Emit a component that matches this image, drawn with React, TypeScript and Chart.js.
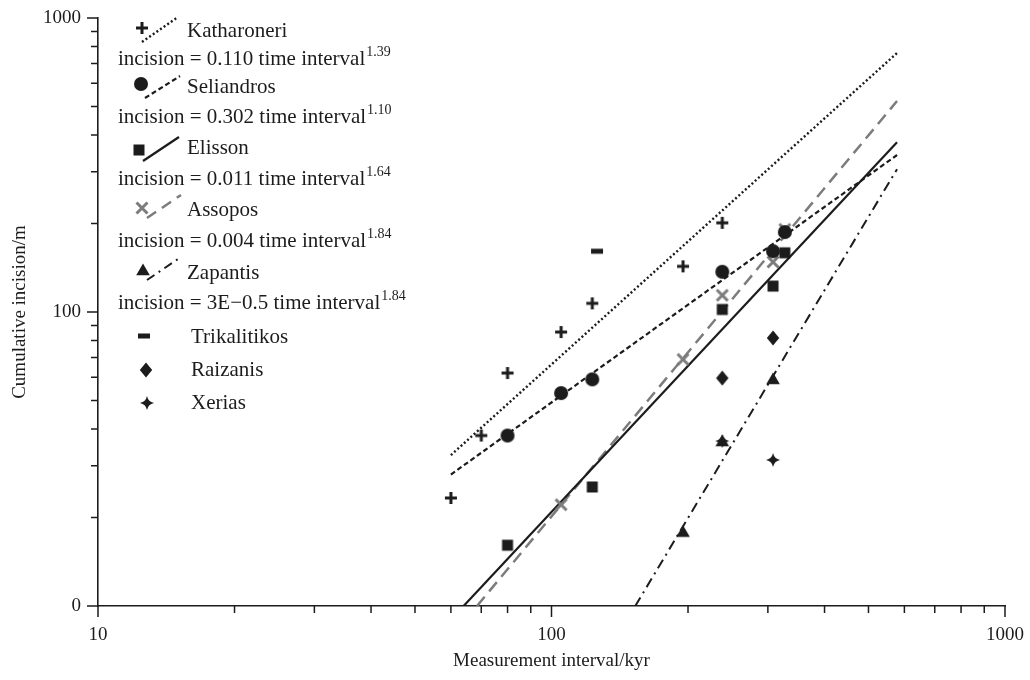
import React, { useEffect, useRef } from "react";
import { Chart, registerables } from "chart.js";

Chart.register(...registerables);

// ---------- data ----------
const katharoneriX = [60, 70, 80, 105, 123, 195, 238];
const katharoneriY = [23.3, 38, 62, 85.5, 107, 143, 201];
const seliandrosX = [80, 105, 123, 238, 308, 327];
const seliandrosY = [38, 53, 59, 137, 161, 187];
const elissonX = [80, 123, 238, 308, 327];
const elissonY = [16.1, 25.4, 102, 122.5, 159];
const assoposX = [105, 195, 238, 308, 327];
const assoposY = [22.1, 69, 114, 148, 191];
const zapantisX = [195, 238, 308];
const zapantisY = [17.9, 36.4, 59.2];
const trikalitikosX = [126];
const trikalitikosY = [161];
const raizanisX = [238, 308];
const raizanisY = [59.6, 81.6];
const xeriasX = [238, 308];
const xeriasY = [36.4, 31.4];

// fitted power-law lines (end points)
const katharoneriFitX = [60, 578];
const katharoneriFitY = [32.6, 760];
const seliandrosFitX = [60, 578];
const seliandrosFitY = [28, 342];
const elissonFitX = [64, 578];
const elissonFitY = [10, 378];
const assoposFitX = [68.5, 578];
const assoposFitY = [10, 522];
const zapantisFitX = [153, 578];
const zapantisFitY = [10, 306];

// ticks
const xTickValues = [10, 100, 1000];
const xTickLabels = ["10", "100", "1000"];
const yTickValues = [10, 100, 1000];
const yTickLabels = ["0", "100", "1000"];
const minorTickValues = [20, 30, 40, 50, 60, 70, 80, 90, 200, 300, 400, 500, 600, 700, 800, 900];

// legend text
const seriesNames = ["Katharoneri", "Seliandros", "Elisson", "Assopos", "Zapantis", "Trikalitikos", "Raizanis", "Xerias"];
const equationTexts = [
  "incision = 0.110 time interval",
  "incision = 0.302 time interval",
  "incision = 0.011 time interval",
  "incision = 0.004 time interval",
  "incision = 3E\u22120.5 time interval",
];
const equationExponents = ["1.39", "1.10", "1.64", "1.84", "1.84"];

const SERIF = "'Liberation Serif', 'Times New Roman', serif";
const INK = "#1c1c1c";
const GRAY = "#7c7c7c";

function zip(xs: number[], ys: number[]) {
  return xs.map((x, i) => ({ x, y: ys[i] }));
}

function makeMarker(kind: string): HTMLCanvasElement {
  const c = document.createElement("canvas");
  c.width = 20;
  c.height = 20;
  const g = c.getContext("2d")!;
  g.translate(10, 10);
  g.fillStyle = INK;
  g.strokeStyle = INK;
  g.beginPath();
  switch (kind) {
    case "plus":
      g.lineWidth = 3;
      g.moveTo(-6, 0); g.lineTo(6, 0);
      g.moveTo(0, -6); g.lineTo(0, 6);
      g.stroke();
      break;
    case "circle":
      g.arc(0, 0, 7, 0, Math.PI * 2);
      g.fill();
      break;
    case "square":
      g.fillRect(-5.5, -5.5, 11, 11);
      break;
    case "x":
      g.strokeStyle = GRAY;
      g.lineWidth = 3;
      g.moveTo(-5.5, -5.5); g.lineTo(5.5, 5.5);
      g.moveTo(5.5, -5.5); g.lineTo(-5.5, 5.5);
      g.stroke();
      break;
    case "triangle":
      g.moveTo(0, -6.5); g.lineTo(6.8, 5.2); g.lineTo(-6.8, 5.2);
      g.closePath();
      g.fill();
      break;
    case "bar":
      g.fillRect(-6, -2.5, 12, 5);
      break;
    case "diamond":
      g.moveTo(0, -7.5); g.lineTo(6.2, 0); g.lineTo(0, 7.5); g.lineTo(-6.2, 0);
      g.closePath();
      g.fill();
      break;
    case "star4":
      g.moveTo(0, -7);
      g.quadraticCurveTo(1.2, -1.2, 7, 0);
      g.quadraticCurveTo(1.2, 1.2, 0, 7);
      g.quadraticCurveTo(-1.2, 1.2, -7, 0);
      g.quadraticCurveTo(-1.2, -1.2, 0, -7);
      g.closePath();
      g.fill();
      break;
  }
  return c;
}

export default function App() {
  const ref = useRef<HTMLCanvasElement | null>(null);

  useEffect(() => {
    if (!ref.current) return;
    const m = {
      plus: makeMarker("plus"),
      circle: makeMarker("circle"),
      square: makeMarker("square"),
      x: makeMarker("x"),
      triangle: makeMarker("triangle"),
      bar: makeMarker("bar"),
      diamond: makeMarker("diamond"),
      star4: makeMarker("star4"),
    };

    const fit = (label: string, xs: number[], ys: number[], color: string, width: number, dash: number[]) => ({
      label,
      data: zip(xs, ys),
      showLine: true,
      borderColor: color,
      borderWidth: width,
      borderDash: dash,
      pointRadius: 0,
      fill: false,
      order: 2,
    });
    const pts = (label: string, xs: number[], ys: number[], style: HTMLCanvasElement) => ({
      label,
      data: zip(xs, ys),
      showLine: false,
      pointStyle: style,
      pointRadius: 6,
      order: 1,
    });

    const tickPlugin = {
      id: "logTicks",
      afterDraw(chart: any) {
        const ctx = chart.ctx;
        const xs = chart.scales.x;
        const ys = chart.scales.y;
        const area = chart.chartArea;
        ctx.save();
        ctx.strokeStyle = INK;
        ctx.lineWidth = 1.5;
        ctx.beginPath();
        xTickValues.forEach((v) => {
          const px = xs.getPixelForValue(v);
          ctx.moveTo(px, area.bottom);
          ctx.lineTo(px, area.bottom + 11);
        });
        minorTickValues.forEach((v) => {
          const px = xs.getPixelForValue(v);
          ctx.moveTo(px, area.bottom);
          ctx.lineTo(px, area.bottom + 7);
        });
        yTickValues.forEach((v) => {
          const py = ys.getPixelForValue(v);
          ctx.moveTo(area.left, py);
          ctx.lineTo(area.left - 11, py);
        });
        minorTickValues.forEach((v) => {
          const py = ys.getPixelForValue(v);
          ctx.moveTo(area.left, py);
          ctx.lineTo(area.left - 7, py);
        });
        ctx.stroke();
        ctx.restore();
      },
    };

    const legendPlugin = {
      id: "customLegend",
      afterDraw(chart: any) {
        const ctx = chart.ctx;
        ctx.save();
        const seg = (x1: number, y1: number, x2: number, y2: number, color: string, w: number, dash: number[]) => {
          ctx.beginPath();
          ctx.strokeStyle = color;
          ctx.lineWidth = w;
          ctx.setLineDash(dash);
          ctx.moveTo(x1, y1);
          ctx.lineTo(x2, y2);
          ctx.stroke();
          ctx.setLineDash([]);
        };
        const mark = (img: HTMLCanvasElement, x: number, y: number) => {
          ctx.drawImage(img, x - img.width / 2, y - img.height / 2);
        };
        // line series symbols
        seg(142, 42, 178, 17, INK, 2.4, [2, 2.4]);
        mark(m.plus, 142, 28);
        seg(145, 98, 180, 76, INK, 2.2, [5, 3]);
        mark(m.circle, 141, 84);
        seg(143, 161, 179, 137, INK, 2.2, []);
        mark(m.square, 139, 150);
        seg(147, 218, 181, 195, GRAY, 2.5, [11, 7]);
        mark(m.x, 142, 208);
        seg(147, 280, 181, 257, INK, 2, [9, 5, 2, 5]);
        mark(m.triangle, 143, 270);
        mark(m.bar, 144, 336);
        mark(m.diamond, 146, 370);
        mark(m.star4, 147, 403);

        ctx.fillStyle = INK;
        ctx.textBaseline = "alphabetic";
        ctx.textAlign = "left";
        ctx.font = `21px ${SERIF}`;
        const nameBase = [37, 93, 154, 216, 279, 343, 376, 409];
        const nameX = [187, 187, 187, 187, 187, 191, 191, 191];
        seriesNames.forEach((n, i) => ctx.fillText(n, nameX[i], nameBase[i]));
        const eqBase = [65, 123, 185, 247, 309];
        equationTexts.forEach((t, i) => {
          ctx.font = `21px ${SERIF}`;
          ctx.fillText(t, 118, eqBase[i]);
          const w = ctx.measureText(t).width;
          ctx.font = `14px ${SERIF}`;
          ctx.fillText(equationExponents[i], 118 + w + 1, eqBase[i] - 9);
        });
        ctx.restore();
      },
    };

    const chart = new Chart(ref.current, {
      type: "scatter",
      data: {
        datasets: [
          pts("Katharoneri", katharoneriX, katharoneriY, m.plus),
          pts("Seliandros", seliandrosX, seliandrosY, m.circle),
          pts("Elisson", elissonX, elissonY, m.square),
          pts("Assopos", assoposX, assoposY, m.x),
          pts("Zapantis", zapantisX, zapantisY, m.triangle),
          pts("Trikalitikos", trikalitikosX, trikalitikosY, m.bar),
          pts("Raizanis", raizanisX, raizanisY, m.diamond),
          pts("Xerias", xeriasX, xeriasY, m.star4),
          fit("Katharoneri fit", katharoneriFitX, katharoneriFitY, INK, 2.4, [2, 2.4]),
          fit("Seliandros fit", seliandrosFitX, seliandrosFitY, INK, 2.2, [5, 3]),
          fit("Elisson fit", elissonFitX, elissonFitY, INK, 2.2, []),
          fit("Assopos fit", assoposFitX, assoposFitY, GRAY, 2.5, [12, 7]),
          fit("Zapantis fit", zapantisFitX, zapantisFitY, INK, 2, [10, 5, 2, 5]),
        ] as any,
      },
      options: {
        animation: false,
        responsive: false,
        maintainAspectRatio: false,
        events: [],
        layout: { padding: { top: 18, right: 25, left: 0, bottom: 0 } },
        plugins: { legend: { display: false }, tooltip: { enabled: false } },
        scales: {
          x: {
            type: "logarithmic",
            position: "bottom",
            min: 10,
            max: 1000,
            grid: { display: false, drawTicks: false },
            border: { display: true, color: INK, width: 1.6 },
            afterBuildTicks: (s: any) => {
              s.ticks = xTickValues.map((v) => ({ value: v }));
            },
            afterFit: (s: any) => {
              s.height = 74;
              s.paddingLeft = 0;
              s.paddingRight = 0;
            },
            ticks: {
              autoSkip: false,
              maxRotation: 0,
              padding: 18,
              color: INK,
              font: { family: SERIF, size: 19 },
              callback: (_v: any, i: number) => xTickLabels[i],
            },
            title: {
              display: true,
              text: "Measurement interval/kyr",
              color: INK,
              font: { family: SERIF, size: 19 },
              padding: { top: 0, bottom: 8 },
            },
          },
          y: {
            type: "logarithmic",
            position: "left",
            min: 10,
            max: 1000,
            grid: { display: false, drawTicks: false },
            border: { display: true, color: INK, width: 1.6 },
            afterBuildTicks: (s: any) => {
              s.ticks = yTickValues.map((v) => ({ value: v }));
            },
            afterFit: (s: any) => {
              s.width = 98;
              s.paddingTop = 0;
              s.paddingBottom = 0;
            },
            ticks: {
              autoSkip: false,
              padding: 17,
              color: INK,
              font: { family: SERIF, size: 19 },
              callback: (_v: any, i: number) => yTickLabels[i],
            },
            title: {
              display: true,
              text: "Cumulative incision/m",
              color: INK,
              font: { family: SERIF, size: 19 },
              padding: { top: 9, bottom: 0 },
            },
          },
        },
      } as any,
      plugins: [tickPlugin, legendPlugin],
    });
    return () => chart.destroy();
  }, []);

  return (
    <div style={{ position: "absolute", left: 0, top: 0, width: 1030, height: 680, background: "#fff" }}>
      <canvas ref={ref} width={1030} height={680} style={{ display: "block" }} />
    </div>
  );
}
